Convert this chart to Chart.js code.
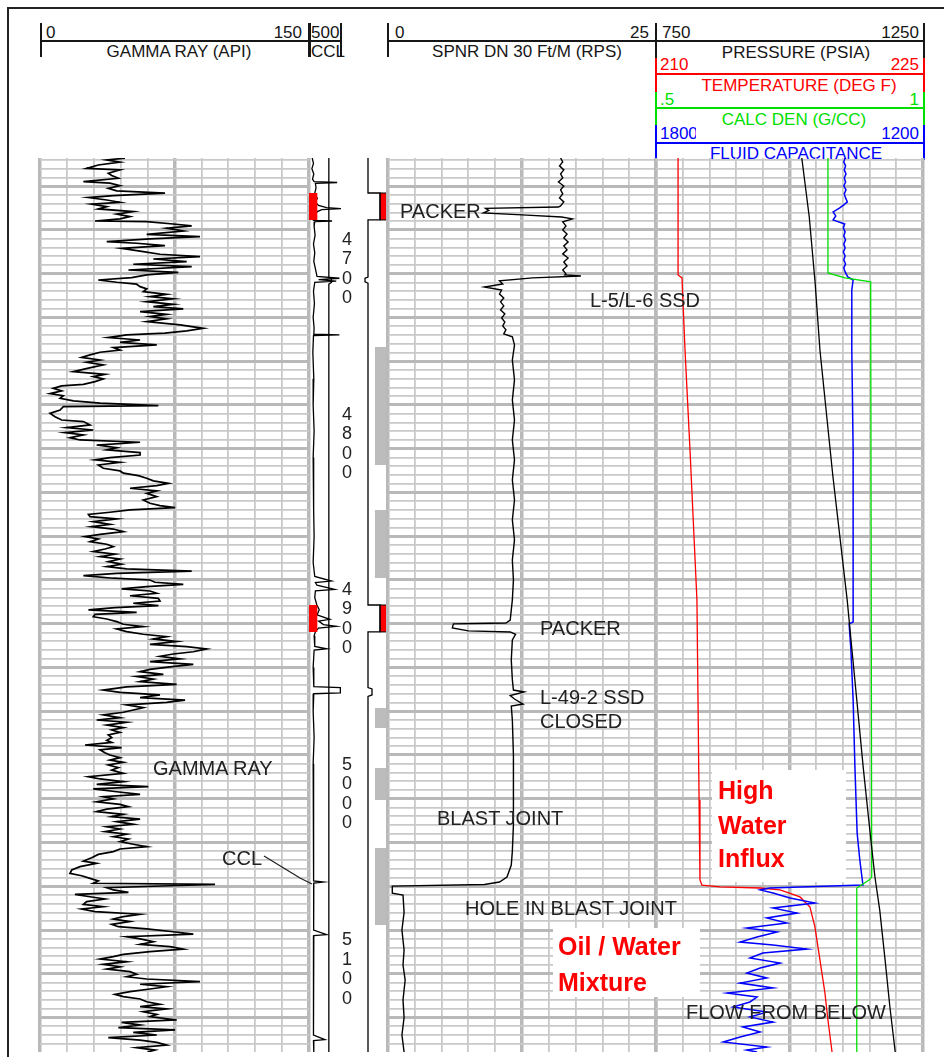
<!DOCTYPE html>
<html>
<head>
<meta charset="utf-8">
<title>Production log</title>
<script src="https://cdn.jsdelivr.net/npm/chart.js@4.4.1/dist/chart.umd.min.js"></script>
<style>
html,body{margin:0;padding:0;background:#fff;}
#page{position:relative;width:944px;height:1057px;overflow:hidden;background:#fff;font-family:"Liberation Sans",Arial,Helvetica,sans-serif;}
#page canvas{position:absolute;}
.t{position:absolute;white-space:nowrap;}
.ln{position:absolute;}
</style>
</head>
<body>
<div id="page"></div>
<script>
// ---------------- DATA ----------------
const DEPTH_TOP = 4658.9;
const DEPTH_BASE = 5169.7;
const depthLabels = [4700, 4800, 4900, 5000, 5100];

const grRange = [0, 150];
const cclRange = [0, 10];
const spinRange = [0, 25];
const presRange = [750, 1250];
const tempRange = [210, 225];
const denRange = [0.5, 1];
const capRange = [1800, 1200];

// [depth ft, API]
const gammaRay = [
[4659.0,47.4],[4660.0,37.2],[4661.3,44.6],[4662.9,32.5],[4664.8,26.0],[4665.7,44.6],[4667.6,38.1],[4668.9,40.0],[4670.5,43.7],[4672.4,24.2],
[4673.3,39.0],[4674.7,44.6],[4676.2,38.1],[4677.7,42.8],[4679.0,69.7],[4680.4,40.9],[4681.5,27.0],[4682.9,37.2],[4684.2,44.6],[4685.3,28.8],
[4686.7,37.2],[4688.0,32.5],[4689.5,52.0],[4691.0,42.8],[4692.4,50.2],[4693.7,44.6],[4694.9,30.7],[4695.2,59.5],[4696.6,74.3],[4697.7,84.6],
[4699.0,70.6],[4700.6,79.9],[4702.5,59.5],[4703.8,89.2],[4705.1,61.3],[4706.7,37.2],[4707.6,53.9],[4709.0,69.7],[4710.5,45.5],[4712.4,57.6],
[4713.9,66.9],[4715.2,89.2],[4716.6,63.2],[4718.1,81.8],[4719.6,52.0],[4721.0,84.6],[4722.9,49.3],[4724.2,77.1],[4725.7,59.5],[4727.2,51.1],
[4728.6,32.5],[4729.9,42.8],[4731.0,53.9],[4732.4,55.8],[4733.7,59.5],[4735.2,57.6],[4736.8,70.6],[4738.1,61.3],[4739.4,74.3],[4741.0,59.5],
[4742.5,74.3],[4743.8,63.2],[4745.1,79.9],[4746.7,55.8],[4748.2,70.6],[4749.5,61.3],[4750.8,70.6],[4752.4,59.5],[4754.3,78.1],[4756.2,91.1],
[4757.7,81.8],[4759.0,69.7],[4760.0,48.3],[4761.5,38.1],[4762.9,55.8],[4764.2,44.6],[4765.7,65.1],[4767.2,40.9],[4768.6,44.6],[4769.9,33.5],
[4771.4,27.9],[4772.8,23.2],[4774.3,33.5],[4775.6,26.0],[4777.1,35.3],[4779.0,27.0],[4781.0,18.6],[4782.5,36.2],[4783.8,29.7],[4785.1,35.3],
[4786.7,30.7],[4788.2,24.2],[4789.1,12.1],[4790.5,7.4],[4792.0,12.1],[4793.5,5.6],[4794.7,13.0],[4796.2,11.2],[4797.7,18.6],[4799.0,33.5],
[4800.4,66.0],[4801.0,13.0],[4802.9,11.2],[4804.8,5.6],[4806.7,8.4],[4808.6,12.1],[4809.5,24.2],[4811.4,27.9],[4813.0,14.9],[4814.3,29.7],
[4815.8,13.9],[4817.1,24.2],[4818.7,16.7],[4820.0,22.3],[4821.3,55.8],[4822.9,31.6],[4824.4,42.8],[4825.7,37.2],[4827.2,55.8],
[4828.6,55.8],[4830.1,39.0],[4831.4,30.7],[4832.8,44.6],[4834.3,32.5],[4836.2,35.3],[4837.7,44.6],[4839.0,46.5],[4840.4,54.8],[4841.9,59.5],
[4843.4,63.2],[4844.8,71.6],[4846.1,65.1],[4847.6,50.2],[4849.1,65.1],[4850.5,59.5],[4852.4,65.1],[4854.3,57.6],[4856.2,61.3],[4857.5,66.9],
[4858.7,75.3],[4860.0,50.2],[4861.3,39.0],[4862.5,27.0],[4863.8,27.9],[4865.1,42.8],[4866.7,29.7],[4868.2,39.0],[4869.5,28.8],[4870.9,40.9],
[4872.4,46.5],[4873.9,33.5],[4875.2,25.1],[4876.6,32.5],[4878.1,27.9],[4879.6,37.2],[4881.0,40.9],[4882.3,36.2],[4883.8,29.7],[4885.3,41.8],
[4886.7,33.5],[4888.0,44.6],[4889.5,38.1],[4891.0,45.5],[4892.4,37.2],[4893.7,48.3],[4894.9,84.6],[4896.2,42.8],[4897.5,24.2],[4899.0,40.9],
[4900.0,61.3],[4901.3,64.1],[4902.5,79.9],[4903.8,59.5],[4905.1,45.5],[4906.3,61.3],[4907.6,65.1],[4909.0,50.2],[4910.5,66.0],[4912.0,66.9],
[4913.3,52.0],[4914.7,66.0],[4915.8,41.8],[4917.1,27.0],[4918.5,53.9],[4919.6,30.7],[4921.0,29.7],[4922.3,37.2],[4923.8,42.8],[4925.3,46.5],
[4926.7,57.6],[4928.0,42.8],[4929.5,48.3],[4931.0,57.6],[4932.4,70.6],[4933.7,63.2],[4935.2,76.2],[4936.8,61.3],[4938.1,81.8],[4939.4,92.9],
[4941.0,85.5],[4942.3,74.3],[4943.6,66.9],[4945.1,78.1],[4946.7,61.3],[4948.2,85.5],[4949.7,72.5],[4951.1,61.3],[4952.4,55.8],[4953.9,68.8],
[4955.2,53.9],[4956.6,63.2],[4958.1,55.8],[4959.6,76.2],[4961.1,48.3],[4962.9,35.3],[4964.2,44.6],[4965.7,66.9],[4967.2,55.8],[4968.6,80.9],
[4969.9,70.6],[4971.4,48.3],[4973.0,57.6],[4974.3,52.0],[4975.6,46.5],[4977.1,35.3],[4978.7,44.6],[4980.0,31.6],[4981.3,48.3],[4982.9,37.2],
[4984.4,46.5],[4985.7,40.0],[4987.1,44.6],[4988.6,38.1],[4990.1,40.0],[4991.6,37.2],[4992.8,40.0],[4994.3,25.1],[4995.8,45.5],[4997.1,33.5],
[4998.7,36.2],
[5000.0,39.0],[5001.5,44.6],[5002.9,39.0],[5004.2,46.5],[5005.7,38.1],[5007.2,43.7],[5008.6,40.0],[5010.5,46.5],[5012.4,27.0],[5013.7,33.5],
[5015.2,46.5],[5016.8,31.6],[5018.1,60.4],[5019.4,29.7],[5021.0,42.8],[5022.5,55.8],[5023.8,35.3],[5025.1,40.9],[5026.7,31.6],[5028.2,44.6],
[5029.5,49.3],[5030.9,37.2],[5032.4,31.6],[5033.9,46.5],[5035.2,40.0],[5036.6,55.8],[5038.1,42.8],[5039.6,52.0],[5041.0,37.2],[5042.3,44.6],
[5043.8,36.2],[5045.3,48.3],[5046.7,40.9],[5048.0,49.3],[5049.5,44.6],[5051.0,52.0],[5052.4,59.5],[5053.7,44.6],[5055.2,40.9],[5056.8,32.5],
[5058.7,28.8],[5060.6,24.2],[5061.9,31.6],[5063.8,22.3],[5065.7,17.7],[5067.6,16.7],[5069.0,23.2],[5070.5,27.9],[5072.0,32.5],[5073.3,29.7],
[5073.9,97.6],[5074.7,72.5],[5075.8,37.2],[5077.1,40.9],[5078.5,49.3],[5079.6,19.5],[5081.0,27.9],[5082.3,36.2],[5083.8,26.0],[5085.3,24.2],
[5086.7,35.3],[5088.0,23.2],[5089.5,30.7],[5091.0,55.8],[5092.4,46.5],[5093.7,40.9],[5095.2,50.2],[5096.8,40.0],[5098.1,43.7],[5099.4,59.5],
[5101.0,74.3],[5102.3,85.5],[5103.8,48.3],[5105.1,55.8],[5106.7,63.2],[5108.2,55.8],[5109.5,72.5],[5110.9,79.9],[5112.4,61.3],[5113.9,46.5],
[5115.2,40.9],[5116.6,33.5],[5118.1,48.3],[5119.6,35.3],[5121.0,44.6],[5122.3,37.2],[5123.8,50.2],[5125.3,53.9],[5126.7,48.3],[5128.0,59.5],
[5129.5,89.2],[5131.0,55.8],[5132.4,70.6],[5133.7,61.3],[5135.2,50.2],[5136.8,41.8],[5138.1,46.5],[5139.4,55.8],[5141.0,59.5],[5142.5,66.9],
[5143.8,55.8],[5145.1,70.6],[5146.7,57.6],[5148.2,65.1],[5149.5,61.3],[5151.4,76.2],[5152.8,45.5],[5154.3,55.8],[5155.8,43.7],[5157.1,75.3],
[5158.5,52.0],[5160.0,65.1],[5161.5,38.1],[5162.9,55.8],[5164.2,65.1],[5165.7,70.6],[5167.2,53.9],[5168.6,64.1],[5169.7,60.0]
];

// [depth, CCL]
const ccl = [
[4658.9,1.0],[4662,1.4],[4665,0.9],[4668,1.5],[4671,1.1],[4672.4,1.6],[4672.9,8.8],[4673.4,2.0],[4676,2.2],[4679,1.8],
[4682,2.6],[4684,1.9],[4686,3.0],[4687.2,5.5],[4687.8,10],[4688.4,4.0],[4689.5,2.6],[4691.5,2.0],[4694.5,1.4],[4694.9,7.2],
[4695.3,1.8],[4698,1.6],[4703,1.9],[4708,1.4],[4713,1.8],[4718,1.5],[4723,2.1],[4726.5,2.5],[4727.6,9.5],[4728.4,3.0],
[4729.2,8.5],[4729.9,1.8],[4735,1.4],[4742,1.7],[4750,1.3],[4756,1.6],[4759.6,1.5],[4760.0,9.5],[4760.4,1.4],[4770,1.2],
[4785,1.5],[4800,1.3],[4815,1.6],[4830,1.3],[4845,1.5],[4860,1.4],[4875,1.6],[4890,1.3],[4898,1.8],[4900.6,7.0],
[4901.5,2.0],[4903,2.5],[4905.4,8.0],[4906.2,2.0],[4910,1.8],[4914,2.4],[4917,3.2],[4920,2.5],[4922.5,6.5],[4923.5,3.0],
[4925.5,4.5],[4926.5,8.5],[4927.5,3.0],[4929.5,2.0],[4932,1.6],[4938,1.8],[4939.3,5.5],[4940,1.6],[4950,1.3],[4961,1.5],
[4961.5,9.8],[4964.5,9.8],[4965,1.5],[4975,1.3],[4990,1.6],[5005,1.3],[5020,1.5],[5035,1.4],[5050,1.5],[5065,1.3],
[5072,1.5],[5072.6,4.5],[5073.2,1.5],[5085,1.4],[5100,1.5],[5102.6,5.5],[5103.2,1.5],[5120,1.4],[5140,1.5],[5160,1.3],
[5162.6,5.0],[5163.2,1.4],[5169.7,1.5]
];
// [depth, CCL reference line]
const cclRef = [[4658.9,6.2],[4727.0,6.2],[4728.0,7.0],[4730.0,7.0],[4731.0,6.2],[5169.7,6.2]];

// completion schematic: [depth, profile]
const tubing = [[4658.9,13],[4678.9,13],[4678.9,25],[4694.3,25],[4694.3,13],[4726.9,13],[4727.6,10],[4729.7,10],[4730.4,13],
[4914.3,13],[4914.3,25],[4929.7,25],[4929.7,13],[4961.5,13],[4962.3,17],[4965.7,17],[4966.5,13],[5169.7,13]];
const packerTop = [4678.9, 4914.3];
const packerBase = [4694.3, 4929.7];
const blastTop = [4766.9, 4860.0, 4973.1, 5007.4, 5053.1];
const blastBase = [4834.3, 4898.9, 4984.6, 5025.7, 5097.1];

// [depth, RPS]
const spinner = [
[4658.9,16.1],[4661.1,16.3],[4663.4,16.0],[4665.7,16.4],[4668.0,16.1],[4670.3,16.3],[4672.6,15.9],[4674.9,16.4],[4677.1,16.1],[4679.4,16.3],
[4681.7,16.0],[4684.0,16.4],[4686.3,16.1],[4686.9,15.9],[4687.7,9.1],[4688.9,9.4],[4690.3,8.9],[4691.4,12.5],[4692.6,16.2],[4693.7,17.2],
[4695.4,16.3],[4697.7,16.6],[4700.0,16.3],[4702.3,16.7],[4704.6,16.4],[4706.9,16.8],[4709.1,16.4],[4711.4,16.7],[4713.7,16.3],[4716.0,16.8],
[4718.3,16.4],[4720.6,16.7],[4722.9,16.3],[4725.1,16.6],[4725.7,16.5],[4726.3,18.0],[4727.4,13.5],[4729.1,10.4],[4730.9,10.7],[4732.6,9.0],
[4734.3,10.6],[4736.6,10.4],[4738.9,10.8],[4741.1,10.5],[4743.4,10.8],[4745.7,10.5],[4748.0,10.9],[4750.3,10.6],[4752.6,10.9],[4754.9,10.7],
[4757.1,11.0],[4759.4,10.8],[4761.1,11.6],[4765.7,11.8],[4774.3,11.6],[4785.7,11.8],[4797.1,11.6],[4808.6,11.8],[4820.0,11.6],[4831.4,11.8],
[4842.9,11.6],[4854.3,11.8],[4865.7,11.6],[4877.1,11.8],[4888.6,11.6],[4900.0,11.7],[4911.4,11.6],[4922.9,11.4],[4924.6,11.0],[4925.1,6.1],
[4927.4,6.0],[4929.1,7.5],[4929.7,11.4],[4931.1,11.9],[4934.3,11.6],[4945.7,11.5],[4957.1,11.6],[4962.9,11.7],[4964.0,12.7],[4966.0,11.4],
[4968.0,11.8],[4970.9,12.6],[4972.0,11.5],[4980.0,11.6],[5000.0,11.7],[5020.0,11.7],[5040.0,11.7],[5055.0,11.6],[5062.9,11.5],[5069.7,11.1],
[5072.6,10.4],[5074.0,9.0],[5074.9,0.4],[5078.9,0.4],[5080.0,1.4],[5090.0,1.5],[5100.0,1.3],[5111.4,1.5],[5120.0,1.4],[5128.6,1.6],
[5140.0,1.4],[5150.0,1.5],[5160.0,1.3],[5169.7,1.5]
];

// [depth, PSIA]
const pressure = [[4658.9,1023],[4692.6,1037],[4730.3,1048],[4768.6,1057],[4840.0,1081],[4911.4,1108],[4940.0,1117],[4968.6,1126],
[5006.9,1138],[5044.6,1151],[5069.7,1160],[5088.6,1169],[5117.1,1179],[5144.0,1188],[5169.7,1198]];
// [depth, deg F]
const temperature = [[4658.9,211.24],[4725.7,211.24],[4727.4,211.46],[4768.6,211.63],[4825.7,211.91],[4911.4,212.30],[4968.6,212.36],
[5025.7,212.42],[5071.4,212.47],[5074.3,212.58],[5075.4,213.60],[5076.0,215.84],[5077.1,216.97],[5081.1,218.09],[5086.9,218.65],
[5098.3,218.93],[5117.1,219.21],[5136.0,219.49],[5151.4,219.66],[5169.7,219.89]];
// [depth, g/cc]
const density = [[4658.9,0.822],[4724.6,0.822],[4727.4,0.854],[4729.7,0.902],[5069.7,0.904],[5071.4,0.899],[5076.0,0.876],[5169.7,0.876]];
// [depth, capacitance]
const capacitance = [
[4658.9,1375],[4661.1,1378],[4663.4,1374],[4665.7,1377],[4668.0,1373],[4670.3,1377],[4672.6,1374],[4674.9,1378],[4677.1,1373],[4679.4,1377],
[4681.7,1374],[4684.0,1370],[4685.7,1378],[4687.4,1387],[4689.7,1402],[4692.0,1396],[4694.3,1402],[4696.6,1376],[4698.9,1379],[4701.1,1375],
[4703.4,1378],[4705.7,1374],[4708.0,1378],[4710.3,1375],[4712.6,1379],[4714.9,1375],[4717.1,1378],[4719.4,1374],[4721.7,1378],[4724.0,1375],
[4726.9,1369],[4728.6,1357],[4734.3,1360],[4768.6,1360],[4825.7,1357],[4911.4,1357],[4924.0,1357],[4925.1,1366],[4940.0,1362],[4968.6,1357],
[5006.9,1353],[5044.6,1348],[5060.0,1342],[5074.3,1335],[5075.4,1476],[5076.0,1544],[5077.1,1566],[5078.9,1537],[5081.7,1499],[5084.6,1443],
[5087.4,1537],[5090.3,1483],[5093.1,1551],[5096.0,1506],[5098.9,1596],[5101.1,1528],[5104.0,1573],[5106.9,1611],[5108.6,1537],[5110.9,1461],
[5113.1,1560],[5116.0,1589],[5118.9,1521],[5121.7,1566],[5124.6,1596],[5127.4,1551],[5130.3,1611],[5133.1,1537],[5136.0,1640],[5138.3,1573],
[5141.1,1589],[5144.0,1627],[5146.9,1551],[5149.7,1589],[5152.6,1537],[5155.4,1605],[5158.3,1566],[5161.1,1611],[5164.0,1649],[5166.9,1551],
[5168.6,1596],[5169.7,1573]
];

// ---------------- LAYOUT ----------------
const page = document.getElementById('page');
const PLOT_TOP = 158, PLOT_BOTTOM = 1052, PADX = 4, PADY = 2;
const RED = '#ff0000', GREEN = '#00e000', BLUE = '#0000ff', INK = '#161616';

function hl(x1, x2, y, color, w) {
  const d = document.createElement('div'); d.className = 'ln';
  w = w || 1.5;
  Object.assign(d.style, {left: x1 + 'px', top: (y - w / 2) + 'px', width: (x2 - x1) + 'px', height: w + 'px', background: color || INK});
  page.appendChild(d);
}
function vl(x, y1, y2, color, w) {
  const d = document.createElement('div'); d.className = 'ln';
  w = w || 1.5;
  Object.assign(d.style, {left: (x - w / 2) + 'px', top: y1 + 'px', width: w + 'px', height: (y2 - y1) + 'px', background: color || INK});
  page.appendChild(d);
}
function txt(s, x, cy, o) {
  o = o || {};
  const size = o.size || 17;
  const d = document.createElement('div'); d.className = 't';
  d.textContent = s;
  d.style.fontSize = size + 'px'; d.style.lineHeight = size + 'px';
  d.style.top = (cy - size / 2) + 'px';
  d.style.color = o.color || INK;
  if (o.weight) d.style.fontWeight = o.weight;
  if (o.align === 'right') d.style.right = (944 - x) + 'px';
  else if (o.align === 'center') { d.style.left = x + 'px'; d.style.transform = 'translateX(-50%)'; }
  else d.style.left = x + 'px';
  if (o.clip) { d.style.width = o.clip + 'px'; d.style.overflow = 'hidden'; }
  page.appendChild(d);
  return d;
}

// frame
hl(7, 944, 8, '#222', 2);
vl(8, 7, 1057, '#222', 2);

// header: gamma ray + CCL
vl(41, 23, 57); hl(41, 309, 41); vl(309.5, 23, 57, INK, 3); hl(309, 341, 41); vl(341, 23, 57);
txt(String(grRange[0]), 46, 32);
txt(String(grRange[1]), 302, 32, {align: 'right'});
txt('500', 311, 32);
txt('GAMMA RAY (API)', 179, 51, {align: 'center'});
txt('CCL', 311, 51);
// spinner
vl(388, 23, 57); hl(388, 656, 41);
txt(String(spinRange[0]), 395, 32);
txt(String(spinRange[1]), 649, 32, {align: 'right'});
txt('SPNR DN 30 Ft/M (RPS)', 527, 51, {align: 'center'});
// track 4
vl(656, 23, 58); vl(924, 23, 58); hl(656, 924, 41);
txt(String(presRange[0]), 662, 32);
txt(String(presRange[1]), 919, 32, {align: 'right'});
txt('PRESSURE (PSIA)', 796, 52, {align: 'center'});
vl(656, 58, 92, RED); vl(924, 58, 92, RED); hl(656, 924, 74, RED);
txt(String(tempRange[0]), 660, 64, {color: RED});
txt(String(tempRange[1]), 919, 64, {align: 'right', color: RED});
txt('TEMPERATURE (DEG F)', 799, 85, {align: 'center', color: RED});
vl(656, 92, 125, GREEN); vl(924, 92, 125, GREEN); hl(656, 924, 108, GREEN);
txt('.5', 660, 99, {color: GREEN});
txt(String(denRange[1]), 919, 99, {align: 'right', color: GREEN});
txt('CALC DEN (G/CC)', 794, 119, {align: 'center', color: GREEN});
vl(656, 125, 160, BLUE); vl(924, 125, 160, BLUE); hl(656, 924, 143, BLUE);
txt(String(capRange[0]), 660, 133, {color: BLUE, clip: 36});
txt(String(capRange[1]), 919, 133, {align: 'right', color: BLUE});
txt('FLUID CAPACITANCE', 796, 153, {align: 'center', color: BLUE});

// ---------------- CHARTS ----------------
function depthAxis(grid) {
  return {
    type: 'linear', axis: 'y', position: 'left', min: DEPTH_TOP, max: DEPTH_BASE, reverse: true,
    display: grid,
    ticks: {display: false, stepSize: 5, includeBounds: false},
    grid: {drawTicks: false,
      color: c => (c.tick && c.tick.value % 25 === 0) ? '#b9b9b9' : '#c9c9c9',
      lineWidth: c => (c.tick && c.tick.value % 25 === 0) ? 3 : 1.8},
    border: {display: false}
  };
}
function valueAxis(range, grid, reverse) {
  return {
    type: 'linear', axis: 'x', position: 'bottom',
    min: Math.min(range[0], range[1]), max: Math.max(range[0], range[1]), reverse: !!reverse,
    display: grid,
    ticks: {display: false, count: 11},
    grid: {drawTicks: false,
      color: c => (c.index % 5 === 0) ? '#b9b9b9' : '#c9c9c9',
      lineWidth: c => (c.index % 5 === 0) ? 3.5 : 1.8},
    border: {display: false}
  };
}
function curve(pairs, color, width, axis) {
  return {data: pairs.map(p => ({x: p[1], y: p[0]})), showLine: true, borderColor: color, borderWidth: width,
    pointRadius: 0, fill: false, tension: 0, xAxisID: axis || 'x', yAxisID: 'y'};
}
function block(top, base, x0, x1, color, edge) {
  return {data: [{x: x0, y: top}, {x: x1, y: top}, {x: x1, y: base}, {x: x0, y: base}, {x: x0, y: top}],
    showLine: true, borderColor: edge || color, borderWidth: edge ? 1 : 0, backgroundColor: color, fill: 'shape',
    pointRadius: 0, tension: 0, xAxisID: 'x', yAxisID: 'y'};
}
function makeTrack(left, right, scales, datasets, grid) {
  const cv = document.createElement('canvas');
  const w = right - left + 2 * PADX, h = PLOT_BOTTOM - PLOT_TOP + 2 * PADY;
  cv.width = w; cv.height = h;
  Object.assign(cv.style, {left: (left - PADX) + 'px', top: (PLOT_TOP - PADY) + 'px', width: w + 'px', height: h + 'px'});
  page.appendChild(cv);
  scales.y = depthAxis(grid);
  return new Chart(cv, {
    type: 'scatter',
    data: {datasets},
    options: {
      responsive: false, animation: false, devicePixelRatio: 1, events: [],
      layout: {padding: {left: PADX, right: PADX, top: PADY, bottom: PADY}},
      plugins: {legend: {display: false}, tooltip: {enabled: false}},
      scales
    }
  });
}

// Track 1: gamma ray
const grChart = makeTrack(40, 309, {x: valueAxis(grRange, true)}, [curve(gammaRay, '#000', 1.7)], true);

// CCL track
const cclSets = [];
packerTop.forEach((t, i) => cclSets.push(block(t, packerBase[i], 0, 2.6, RED)));
cclSets.push(curve(cclRef, '#000', 1.3));
cclSets.push(curve(ccl, '#000', 1.3));
makeTrack(309, 341, {x: valueAxis(cclRange, false)}, cclSets, false);

// completion schematic
const compSets = [];
blastTop.forEach((t, i) => compSets.push(block(t, blastBase[i], 20, 33, '#bcbcbc')));
compSets.push(curve(tubing, '#000', 1.3));
packerTop.forEach((t, i) => compSets.push(block(t, packerBase[i], 25, 32, RED, '#000')));
makeTrack(355, 388, {x: valueAxis([0, 33], false)}, compSets, false);

// Track 3: spinner
makeTrack(388, 656, {x: valueAxis(spinRange, true)}, [curve(spinner, '#000', 1.4)], true);

// Track 4: pressure / temperature / density / capacitance
makeTrack(656, 923, {
  x: valueAxis(presRange, true),
  xT: valueAxis(tempRange, false),
  xD: valueAxis(denRange, false),
  xC: valueAxis(capRange, false, true)
}, [
  curve(pressure, '#000', 1.3, 'x'),
  curve(density, GREEN, 1.3, 'xD'),
  curve(capacitance, BLUE, 1.5, 'xC'),
  curve(temperature, RED, 1.3, 'xT')
], true);

// depth labels (positioned through the depth scale)
const ys = grChart.scales.y;
depthLabels.forEach(d => {
  const div = document.createElement('div'); div.className = 't';
  div.innerHTML = String(d).split('').join('<br>');
  Object.assign(div.style, {left: '340px', width: '14px', textAlign: 'center', fontSize: '18px', lineHeight: '19.5px',
    color: '#222', top: (PLOT_TOP - PADY + ys.getPixelForValue(d)) + 'px'});
  page.appendChild(div);
});

// ---------------- ANNOTATIONS ----------------
function box(x, y, w, h) {
  const d = document.createElement('div'); d.className = 'ln';
  Object.assign(d.style, {left: x + 'px', top: y + 'px', width: w + 'px', height: h + 'px', background: '#fff'});
  page.appendChild(d);
}
const A = {size: 20, color: '#222'};
txt('PACKER', 400, 211, A);
txt('L-5/L-6 SSD', 590, 300, A);
txt('PACKER', 540, 628, A);
txt('L-49-2 SSD', 540, 697, A);
txt('CLOSED', 540, 721, A);
txt('GAMMA RAY', 153, 768, A);
txt('BLAST JOINT', 437, 818, A);
txt('CCL', 222, 858, A);
txt('HOLE IN BLAST JOINT', 465, 908, A);
txt('FLOW FROM BELOW', 686, 1012, A);

// leader for CCL note
const svgNS = 'http://www.w3.org/2000/svg';
const svg = document.createElementNS(svgNS, 'svg');
svg.setAttribute('width', '944'); svg.setAttribute('height', '1057');
Object.assign(svg.style, {position: 'absolute', left: '0', top: '0'});
const pl = document.createElementNS(svgNS, 'polyline');
pl.setAttribute('points', '264,856 300,878 312,884');
pl.setAttribute('fill', 'none'); pl.setAttribute('stroke', '#222'); pl.setAttribute('stroke-width', '1.3');
svg.appendChild(pl); page.appendChild(svg);

box(712, 770, 134, 112);
const R = {size: 25, color: RED, weight: 'bold'};
txt('High', 718, 790, R);
txt('Water', 718, 825, R);
txt('Influx', 718, 858, R);
box(553, 928, 147, 69);
txt('Oil / Water', 558, 946, R);
txt('Mixture', 558, 982, R);
</script>
</body>
</html>
